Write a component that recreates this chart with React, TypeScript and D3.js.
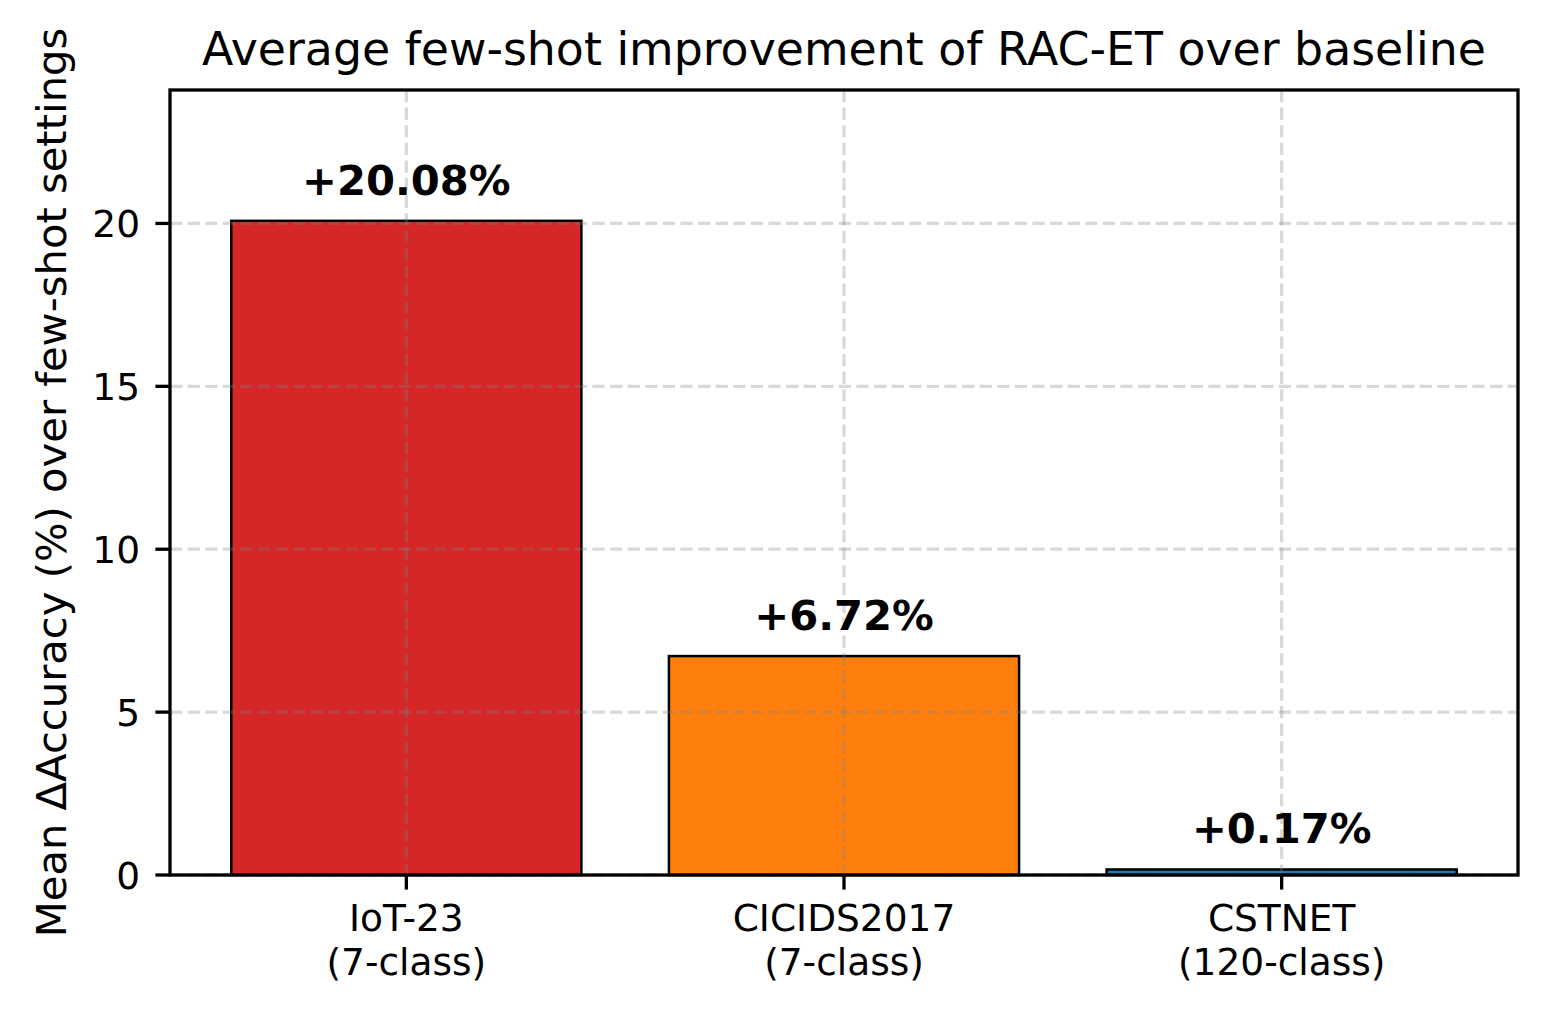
import { useEffect } from "react";
import * as d3 from "d3";

const DATASETS = ["IoT-23", "CICIDS2017", "CSTNET"];
const CLASS_NOTES = ["(7-class)", "(7-class)", "(120-class)"];
const GAINS = [20.08, 6.72, 0.17];
const BAR_COLORS = ["#d62728", "#ff7f0e", "#1f77b4"];
const Y_TICKS = [0, 5, 10, 15, 20];

const W = 1548;
const H = 1012;
const PLOT = { left: 170, right: 1518, top: 90, bottom: 875 };
const FONT = "DejaVu Sans, sans-serif";

export default function App() {
    useEffect(() => {
        document.body.style.margin = "0";
    }, []);

    // matplotlib-style bar layout: width 0.8, 5% margins on the x range
    const x = d3.scaleLinear().domain([-0.54, 2.54]).range([PLOT.left, PLOT.right]);
    const y = d3.scaleLinear().domain([0, d3.max(GAINS)! * 1.2]).range([PLOT.bottom, PLOT.top]);
    const barW = x(0.8) - x(0);

    const grid = { stroke: "#808080", strokeOpacity: 0.3, strokeWidth: 3.3, strokeDasharray: "12.3 5.3" };

    return (
        <svg width={W} height={H} style={{ display: "block", background: "#fff" }} fontFamily={FONT}>
            <text x={(PLOT.left + PLOT.right) / 2} y={65} textAnchor="middle" fontSize={45.8} fill="#000">
                Average few-shot improvement of RAC-ET over baseline
            </text>

            {GAINS.map((v, i) => (
                <rect
                    key={DATASETS[i]}
                    x={x(i) - barW / 2}
                    y={y(v)}
                    width={barW}
                    height={y(0) - y(v)}
                    fill={BAR_COLORS[i]}
                    stroke="#000"
                    strokeWidth={2.5}
                />
            ))}

            {/* grid sits above the bars, as in the source */}
            {Y_TICKS.map((t) => (
                <line key={`gy${t}`} x1={PLOT.left} x2={PLOT.right} y1={y(t)} y2={y(t)} {...grid} />
            ))}
            {DATASETS.map((_, i) => (
                <line key={`gx${i}`} x1={x(i)} x2={x(i)} y1={PLOT.top} y2={PLOT.bottom} {...grid} />
            ))}

            {GAINS.map((v, i) => (
                <text key={`lab${i}`} x={x(i)} y={y(v) - 26} textAnchor="middle" fontSize={41.7} fontWeight="bold" fill="#000">
                    {`+${v.toFixed(2)}%`}
                </text>
            ))}

            <rect
                x={PLOT.left}
                y={PLOT.top}
                width={PLOT.right - PLOT.left}
                height={PLOT.bottom - PLOT.top}
                fill="none"
                stroke="#000"
                strokeWidth={3.3}
            />

            {Y_TICKS.map((t) => (
                <g key={`yt${t}`}>
                    <line x1={PLOT.left - 14.6} x2={PLOT.left} y1={y(t)} y2={y(t)} stroke="#000" strokeWidth={3.3} />
                    <text x={PLOT.left - 30} y={y(t)} dy="0.36em" textAnchor="end" fontSize={37.5} fill="#000">
                        {t}
                    </text>
                </g>
            ))}

            {DATASETS.map((name, i) => (
                <g key={`xt${i}`}>
                    <line x1={x(i)} x2={x(i)} y1={PLOT.bottom} y2={PLOT.bottom + 14.6} stroke="#000" strokeWidth={3.3} />
                    <text x={x(i)} y={931} textAnchor="middle" fontSize={37.5} fill="#000">
                        {name}
                    </text>
                    <text x={x(i)} y={975} textAnchor="middle" fontSize={37.5} fill="#000">
                        {CLASS_NOTES[i]}
                    </text>
                </g>
            ))}

            <text
                transform={`translate(66,${(PLOT.top + PLOT.bottom) / 2}) rotate(-90)`}
                textAnchor="middle"
                fontSize={41.7}
                fill="#000"
            >
                Mean ΔAccuracy (%) over few-shot settings
            </text>
        </svg>
    );
}
